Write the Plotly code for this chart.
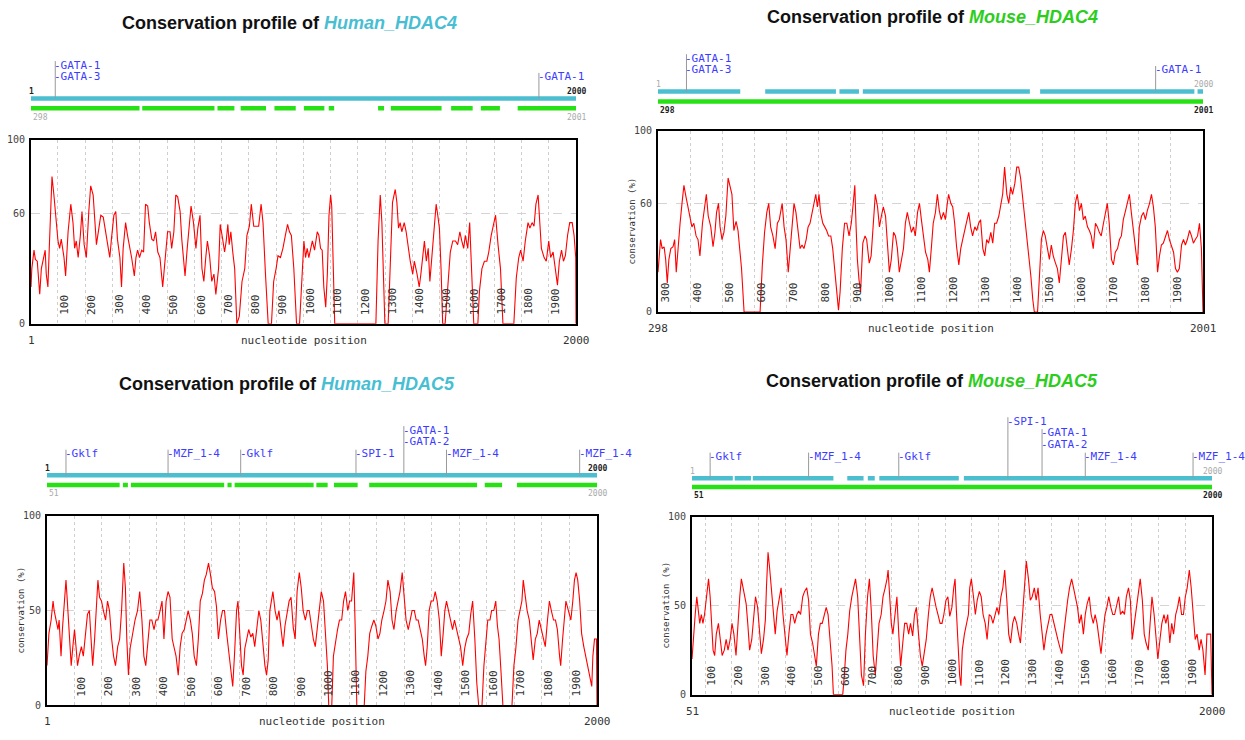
import plotly.graph_objects as go

W, H = 1245, 740

# ======================= DATA =======================
# conservation profiles: (nucleotide position, conservation %)
h4_profile = [
    (1, 20), (4, 30), (12, 40), (17, 35), (24, 34), (33, 16), (39, 30), (45, 34), (53, 40), (57, 27),
    (63, 20), (69, 45), (78, 80), (85, 70), (91, 59), (100, 45), (106, 41), (112, 46), (122, 36), (128, 26),
    (137, 50), (147, 65), (155, 55), (161, 41), (167, 45), (174, 36), (182, 48), (188, 61), (196, 43), (204, 36),
    (213, 61), (220, 75), (229, 70), (235, 55), (241, 43), (250, 52), (257, 59), (266, 58), (274, 51), (282, 43),
    (290, 36), (296, 46), (305, 59), (312, 61), (318, 46), (327, 36), (333, 20), (339, 41), (348, 55), (355, 48),
    (364, 41), (370, 36), (380, 26), (386, 36), (392, 40), (399, 36), (407, 40), (414, 39), (421, 65), (429, 64),
    (435, 55), (444, 46), (451, 45), (458, 50), (466, 39), (474, 36), (484, 20), (493, 36), (502, 50), (511, 50),
    (517, 41), (525, 50), (532, 70), (539, 69), (548, 61), (554, 46), (561, 36), (566, 26), (574, 41), (581, 55),
    (588, 64), (597, 55), (606, 41), (613, 52), (621, 59), (628, 30), (635, 23), (642, 36), (648, 45), (656, 37),
    (664, 23), (672, 27), (679, 16), (689, 30), (695, 54), (704, 46), (711, 39), (717, 45), (723, 54), (728, 43),
    (734, 50), (741, 39), (748, 30), (756, 0), (765, 4), (775, 23), (785, 30), (793, 48), (802, 53), (809, 65),
    (818, 53), (826, 53), (836, 53), (845, 65), (852, 55), (861, 27), (871, 0), (883, 0), (891, 23), (900, 30),
    (907, 37), (916, 36), (925, 41), (934, 48), (942, 54), (949, 50), (956, 48), (965, 30), (975, 0), (986, 0),
    (993, 20), (1002, 45), (1008, 36), (1014, 41), (1020, 36), (1026, 40), (1033, 45), (1041, 40), (1051, 50), (1057, 48),
    (1063, 41), (1069, 40), (1075, 20), (1082, 9), (1088, 27), (1094, 59), (1100, 70), (1104, 64), (1109, 30), (1115, 0),
    (1266, 0), (1274, 45), (1282, 70), (1288, 55), (1294, 25), (1299, 0), (1311, 0), (1318, 30), (1327, 66), (1337, 73),
    (1343, 66), (1349, 52), (1355, 55), (1361, 50), (1370, 55), (1377, 50), (1385, 41), (1392, 34), (1401, 27), (1407, 34),
    (1417, 27), (1425, 20), (1431, 27), (1437, 36), (1444, 45), (1451, 34), (1458, 41), (1464, 23), (1472, 39), (1478, 52),
    (1487, 65), (1493, 59), (1499, 52), (1505, 30), (1511, 0), (1520, 0), (1529, 21), (1539, 39), (1548, 45), (1558, 45),
    (1566, 43), (1574, 50), (1581, 45), (1588, 41), (1594, 48), (1603, 41), (1610, 55), (1618, 30), (1625, 0), (1640, 0),
    (1646, 18), (1655, 30), (1664, 34), (1673, 34), (1680, 39), (1689, 48), (1698, 55), (1705, 59), (1714, 43), (1723, 30),
    (1732, 0), (1772, 0), (1781, 25), (1790, 36), (1797, 40), (1806, 34), (1814, 45), (1824, 55), (1831, 52), (1839, 55),
    (1846, 53), (1853, 65), (1861, 70), (1868, 53), (1873, 41), (1883, 36), (1891, 34), (1900, 45), (1907, 36), (1916, 39),
    (1925, 30), (1932, 21), (1939, 34), (1947, 40), (1954, 34), (1961, 37), (1969, 48), (1977, 55), (1986, 55), (1993, 48),
    (1999, 36), (2000, 0)]

m4_profile = [
    (298, 22), (306, 40), (311, 35), (317, 36), (322, 29), (327, 16), (332, 29), (338, 35), (345, 36), (350, 40),
    (355, 22), (360, 35), (367, 49), (373, 60), (379, 70), (385, 64), (392, 58), (398, 51), (404, 47), (410, 49),
    (417, 42), (423, 40), (429, 31), (437, 49), (442, 55), (449, 65), (455, 53), (463, 47), (470, 36), (476, 44),
    (481, 55), (487, 60), (492, 47), (498, 40), (504, 44), (510, 53), (517, 74), (523, 69), (529, 65), (535, 45),
    (542, 50), (548, 45), (554, 35), (559, 24), (567, 0), (617, 0), (624, 26), (631, 44), (638, 55), (644, 60),
    (650, 47), (657, 42), (664, 35), (671, 49), (677, 51), (686, 60), (692, 47), (698, 40), (705, 22), (713, 38),
    (718, 51), (723, 60), (729, 55), (736, 42), (742, 35), (748, 37), (754, 35), (761, 40), (767, 47), (773, 49),
    (780, 56), (786, 60), (791, 65), (796, 58), (801, 65), (806, 55), (813, 49), (819, 47), (825, 45), (831, 42),
    (838, 42), (844, 35), (850, 22), (856, 13), (862, 1), (867, 11), (874, 35), (881, 49), (888, 49), (895, 42),
    (902, 49), (907, 58), (913, 70), (917, 47), (921, 29), (926, 18), (931, 11), (938, 38), (945, 42), (950, 40),
    (958, 27), (964, 31), (970, 47), (977, 65), (984, 58), (990, 47), (996, 53), (1002, 58), (1009, 53), (1015, 35),
    (1021, 22), (1027, 29), (1034, 44), (1040, 42), (1046, 35), (1052, 22), (1059, 29), (1065, 35), (1071, 49), (1077, 55),
    (1084, 49), (1090, 44), (1096, 47), (1102, 42), (1109, 55), (1115, 60), (1121, 51), (1127, 42), (1134, 33), (1141, 29),
    (1146, 22), (1152, 35), (1158, 49), (1165, 55), (1171, 65), (1177, 56), (1183, 51), (1190, 55), (1196, 51), (1202, 60),
    (1206, 65), (1213, 60), (1219, 58), (1225, 49), (1231, 36), (1238, 26), (1244, 35), (1250, 40), (1256, 45), (1263, 49),
    (1269, 55), (1275, 47), (1281, 42), (1288, 47), (1294, 45), (1300, 49), (1306, 51), (1313, 35), (1319, 31), (1325, 40),
    (1331, 38), (1338, 44), (1344, 38), (1350, 49), (1356, 49), (1363, 53), (1369, 60), (1375, 65), (1381, 80), (1388, 65),
    (1394, 60), (1400, 69), (1406, 65), (1413, 71), (1419, 80), (1425, 80), (1431, 74), (1438, 62), (1444, 51), (1450, 44),
    (1456, 33), (1463, 20), (1469, 7), (1474, 0), (1484, 0), (1490, 20), (1496, 40), (1502, 45), (1508, 42), (1515, 35),
    (1521, 29), (1527, 37), (1533, 31), (1540, 27), (1546, 24), (1552, 16), (1558, 29), (1565, 42), (1571, 44), (1577, 35),
    (1583, 26), (1590, 35), (1596, 45), (1602, 60), (1608, 65), (1615, 56), (1621, 60), (1627, 51), (1633, 53), (1640, 47),
    (1646, 45), (1652, 42), (1658, 35), (1665, 49), (1671, 47), (1677, 44), (1683, 42), (1690, 49), (1696, 55), (1702, 60),
    (1708, 49), (1715, 29), (1721, 26), (1727, 33), (1734, 35), (1740, 40), (1746, 42), (1752, 51), (1759, 56), (1765, 60),
    (1771, 65), (1777, 55), (1784, 44), (1790, 35), (1796, 26), (1802, 47), (1809, 53), (1815, 55), (1821, 51), (1827, 56),
    (1834, 60), (1840, 65), (1846, 58), (1852, 47), (1859, 22), (1865, 31), (1871, 37), (1877, 38), (1884, 42), (1890, 45),
    (1896, 40), (1902, 37), (1909, 33), (1915, 24), (1921, 22), (1927, 24), (1934, 37), (1940, 40), (1946, 37), (1952, 40),
    (1959, 45), (1965, 42), (1971, 38), (1977, 40), (1984, 42), (1990, 49), (1996, 35), (2001, 0)]

h5_profile = [
    (1, 21), (8, 38), (16, 45), (23, 55), (27, 50), (33, 45), (41, 40), (45, 45), (52, 26), (57, 40),
    (63, 55), (70, 66), (74, 57), (82, 40), (89, 21), (95, 31), (101, 40), (107, 30), (112, 21), (118, 26),
    (126, 31), (133, 26), (140, 35), (148, 48), (155, 50), (162, 35), (167, 21), (174, 35), (180, 55), (186, 66),
    (192, 57), (199, 55), (206, 50), (214, 45), (221, 55), (228, 50), (236, 35), (243, 26), (250, 21), (258, 31),
    (265, 35), (272, 50), (280, 75), (286, 62), (291, 35), (297, 16), (303, 30), (312, 38), (321, 45), (330, 50),
    (338, 60), (346, 45), (353, 26), (360, 21), (368, 35), (375, 45), (382, 45), (390, 40), (397, 45), (404, 45),
    (412, 50), (419, 55), (426, 35), (434, 55), (441, 60), (448, 57), (456, 35), (463, 31), (470, 26), (478, 16),
    (485, 31), (492, 38), (500, 40), (507, 45), (514, 50), (522, 45), (529, 38), (536, 26), (544, 21), (551, 35),
    (558, 55), (566, 59), (573, 66), (580, 69), (588, 75), (595, 69), (602, 62), (610, 60), (617, 52), (624, 35),
    (632, 45), (639, 50), (646, 50), (654, 38), (661, 28), (668, 21), (676, 10), (683, 28), (690, 50), (695, 55),
    (702, 38), (708, 21), (714, 16), (720, 30), (727, 35), (734, 40), (742, 36), (749, 38), (756, 31), (764, 42),
    (771, 50), (778, 45), (786, 31), (793, 21), (799, 16), (805, 24), (811, 50), (816, 55), (822, 60), (830, 50),
    (837, 45), (844, 50), (852, 38), (859, 31), (866, 42), (874, 50), (881, 55), (888, 57), (896, 41), (903, 35),
    (910, 60), (918, 70), (925, 62), (932, 50), (940, 45), (947, 50), (954, 50), (962, 42), (969, 35), (976, 31),
    (984, 42), (991, 50), (998, 60), (1006, 55), (1013, 40), (1020, 21), (1025, 0), (1036, 0), (1042, 26), (1050, 35),
    (1057, 40), (1064, 45), (1072, 45), (1079, 55), (1086, 60), (1094, 50), (1101, 55), (1108, 55), (1116, 70), (1121, 42),
    (1127, 0), (1154, 0), (1160, 18), (1167, 26), (1174, 38), (1182, 42), (1189, 45), (1196, 42), (1204, 35), (1211, 38),
    (1218, 45), (1226, 50), (1233, 55), (1240, 66), (1248, 60), (1255, 45), (1262, 40), (1270, 50), (1277, 55), (1284, 60),
    (1292, 70), (1299, 55), (1306, 45), (1314, 40), (1321, 45), (1328, 50), (1336, 50), (1343, 45), (1350, 45), (1358, 40),
    (1365, 35), (1372, 26), (1377, 21), (1383, 31), (1390, 50), (1397, 55), (1405, 55), (1412, 60), (1419, 55), (1427, 45),
    (1434, 26), (1441, 38), (1447, 50), (1453, 55), (1460, 50), (1468, 45), (1475, 40), (1482, 45), (1490, 40), (1497, 35),
    (1504, 31), (1512, 21), (1519, 30), (1526, 35), (1534, 38), (1541, 48), (1548, 55), (1556, 35), (1563, 12), (1570, 0),
    (1582, 0), (1589, 21), (1597, 38), (1603, 45), (1611, 45), (1617, 50), (1625, 50), (1632, 55), (1638, 42), (1644, 35),
    (1651, 18), (1658, 0), (1691, 0), (1698, 21), (1705, 30), (1713, 45), (1720, 50), (1727, 55), (1732, 66), (1739, 59),
    (1746, 50), (1754, 45), (1761, 35), (1768, 24), (1776, 35), (1783, 38), (1790, 45), (1798, 40), (1805, 35), (1812, 31),
    (1820, 45), (1827, 55), (1834, 50), (1842, 45), (1849, 45), (1856, 40), (1864, 26), (1868, 21), (1875, 35), (1881, 45),
    (1887, 55), (1896, 50), (1905, 45), (1912, 55), (1918, 66), (1924, 70), (1930, 66), (1937, 55), (1944, 38), (1952, 31),
    (1959, 26), (1966, 21), (1974, 16), (1981, 10), (1985, 26), (1991, 35), (1998, 35), (2000, 0)]

m5_profile = [
    (51, 20), (57, 34), (63, 45), (69, 55), (75, 47), (80, 40), (86, 45), (92, 40), (98, 45), (105, 55),
    (113, 65), (119, 55), (125, 40), (130, 25), (136, 22), (142, 34), (150, 40), (157, 31), (164, 22), (172, 25),
    (179, 31), (186, 25), (194, 31), (201, 40), (208, 34), (216, 22), (223, 40), (230, 55), (236, 65), (242, 60),
    (248, 55), (254, 51), (260, 40), (267, 25), (275, 31), (282, 45), (289, 55), (297, 49), (304, 34), (311, 23),
    (319, 31), (326, 42), (330, 60), (336, 80), (342, 71), (348, 60), (355, 45), (363, 34), (370, 47), (378, 55),
    (385, 60), (392, 45), (400, 31), (407, 22), (414, 34), (422, 45), (429, 45), (436, 40), (444, 45), (451, 47),
    (458, 45), (466, 55), (473, 58), (481, 60), (488, 53), (495, 34), (503, 29), (510, 23), (517, 16), (525, 34),
    (532, 40), (539, 40), (547, 45), (554, 49), (561, 45), (569, 31), (576, 16), (581, 0), (616, 0), (622, 11),
    (628, 25), (635, 34), (642, 47), (650, 55), (657, 60), (664, 65), (672, 55), (679, 34), (686, 11), (694, 5),
    (701, 34), (709, 55), (716, 65), (723, 47), (730, 22), (738, 11), (745, 25), (752, 40), (760, 45), (767, 55),
    (775, 60), (782, 65), (786, 70), (792, 55), (798, 40), (804, 34), (811, 45), (819, 55), (826, 34), (833, 16),
    (841, 29), (848, 40), (856, 40), (863, 34), (870, 40), (878, 33), (885, 45), (892, 49), (900, 34), (907, 22),
    (914, 16), (922, 25), (929, 31), (937, 45), (944, 55), (951, 60), (959, 53), (966, 49), (973, 45), (981, 40),
    (988, 40), (995, 45), (1003, 53), (1010, 55), (1017, 44), (1025, 49), (1032, 60), (1037, 65), (1042, 47), (1048, 25),
    (1054, 11), (1059, 5), (1064, 25), (1072, 34), (1079, 40), (1087, 45), (1092, 60), (1098, 65), (1106, 55), (1113, 45),
    (1120, 53), (1128, 58), (1135, 55), (1142, 45), (1150, 40), (1157, 31), (1165, 45), (1172, 44), (1179, 40), (1187, 45),
    (1194, 49), (1201, 45), (1209, 55), (1216, 60), (1223, 70), (1231, 53), (1238, 34), (1245, 29), (1253, 40), (1260, 44),
    (1268, 40), (1275, 34), (1282, 29), (1290, 45), (1297, 60), (1304, 75), (1312, 65), (1319, 53), (1326, 55), (1334, 60),
    (1341, 53), (1348, 60), (1356, 45), (1363, 34), (1370, 25), (1378, 34), (1385, 40), (1393, 45), (1400, 45), (1407, 40),
    (1415, 34), (1422, 31), (1429, 27), (1437, 23), (1444, 34), (1452, 45), (1459, 53), (1466, 60), (1474, 65), (1481, 60),
    (1488, 55), (1496, 49), (1503, 40), (1510, 45), (1518, 34), (1525, 45), (1532, 51), (1540, 55), (1547, 45), (1555, 40),
    (1562, 45), (1569, 40), (1577, 31), (1584, 23), (1591, 34), (1599, 45), (1606, 49), (1613, 55), (1621, 49), (1628, 45),
    (1635, 45), (1643, 51), (1650, 55), (1657, 45), (1665, 47), (1672, 45), (1679, 55), (1687, 60), (1694, 53), (1701, 31),
    (1709, 40), (1716, 45), (1724, 55), (1731, 65), (1739, 53), (1746, 34), (1753, 29), (1761, 25), (1768, 40), (1775, 55),
    (1783, 45), (1790, 31), (1797, 20), (1805, 31), (1812, 40), (1820, 45), (1827, 40), (1834, 45), (1842, 29), (1849, 40),
    (1856, 34), (1864, 45), (1871, 49), (1878, 55), (1886, 45), (1893, 45), (1900, 55), (1907, 60), (1915, 70), (1922, 60),
    (1930, 47), (1937, 31), (1944, 34), (1952, 25), (1959, 31), (1966, 25), (1974, 11), (1981, 34), (1988, 34), (1995, 34),
    (2000, 0)]

h4_pos = [p for p, v in h4_profile]
h4_val = [v for p, v in h4_profile]
m4_pos = [p for p, v in m4_profile]
m4_val = [v for p, v in m4_profile]
h5_pos = [p for p, v in h5_profile]
h5_val = [v for p, v in h5_profile]
m5_pos = [p for p, v in m5_profile]
m5_val = [v for p, v in m5_profile]

# --- alignment tracks (segment start / end, in each panel's coordinates) ---
h4_top_start, h4_top_end = [1], [2000]
h4_bot_start = [1, 409, 685, 770, 894, 1002, 1093, 1274, 1321, 1542, 1651, 1786]
h4_bot_end = [399, 674, 747, 863, 972, 1077, 1113, 1296, 1507, 1621, 1721, 2000]
m4_top_start = [298, 633, 865, 938, 1492, 1984]
m4_top_end = [555, 854, 926, 1460, 1974, 2001]
m4_bot_start, m4_bot_end = [298], [2001]
h5_top_start, h5_top_end = [1], [2000]
h5_bot_start = [1, 277, 306, 657, 683, 980, 1044, 1172, 1592, 1709]
h5_bot_end = [265, 295, 645, 672, 970, 1021, 1130, 1564, 1655, 2000]
m5_top_start = [51, 211, 279, 633, 710, 753, 1070]
m5_top_end = [204, 272, 581, 694, 736, 1051, 2000]
m5_bot_start, m5_bot_end = [51], [2000]

# --- transcription factor sites ---
h4_site_pos = [90, 1864]
h4_site_names = [["GATA-1", "GATA-3"], ["GATA-1"]]
m4_site_pos = [387, 1853]
m4_site_names = [["GATA-1", "GATA-3"], ["GATA-1"]]
h5_site_pos = [70, 441, 705, 1124, 1298, 1453, 1937]
h5_site_names = [["Gklf"], ["MZF_1-4"], ["Gklf"], ["SPI-1"], ["GATA-1", "GATA-2"], ["MZF_1-4"], ["MZF_1-4"]]
m5_site_pos = [119, 488, 826, 1235, 1363, 1525, 1929]
m5_site_names = [["Gklf"], ["MZF_1-4"], ["Gklf"], ["SPI-1"], ["GATA-1", "GATA-2"], ["MZF_1-4"], ["MZF_1-4"]]

# --- axis labels ---
h4_xticks = list(range(100, 2000, 100))
m4_xticks = list(range(300, 2000, 100))
h5_xticks = list(range(100, 2000, 100))
m5_xticks = list(range(100, 2000, 100))
h4_yticks = [0, 60, 100]
m4_yticks = [0, 60, 100]
h5_yticks = [0, 50, 100]
m5_yticks = [0, 50, 100]

# ======================= STYLE / LAYOUT =======================
HUMAN_C = "rgb(72,190,210)"
MOUSE_C = "rgb(45,205,30)"
TRACK_BLUE = "rgb(75,190,208)"
TRACK_GREEN = "rgb(40,225,20)"
SITE_C = "rgb(60,60,255)"
MONO = "DejaVu Sans Mono"
SANS = "Liberation Sans, Arial"

panels = [
    dict(name="Human_HDAC4", ncol=HUMAN_C, pos=h4_pos, val=h4_val, xr=[1, 2000],
         box=(31, 136, 576, 323), title=(289, 17), track_y=94, track_x=(31, 576), gap=10,
         top=(h4_top_start, h4_top_end), bot=(h4_bot_start, h4_bot_end),
         sites=(h4_site_pos, h4_site_names), levels=[0, 0],
         top_lbl=("1", "2000"), bot_lbl=("298", "2001"), top_bold=True,
         xticks=h4_xticks, yticks=h4_yticks, ylab=False, xlbl=("1", "2000")),
    dict(name="Mouse_HDAC4", ncol=MOUSE_C, pos=m4_pos, val=m4_val, xr=[298, 2001],
         box=(658, 127, 1203, 311), title=(932, 11), track_y=87, track_x=(658, 1203), gap=10,
         top=(m4_top_start, m4_top_end), bot=(m4_bot_start, m4_bot_end),
         sites=(m4_site_pos, m4_site_names), levels=[0, 0],
         top_lbl=("1", "2000"), bot_lbl=("298", "2001"), top_bold=False,
         xticks=m4_xticks, yticks=m4_yticks, ylab=True, xlbl=("298", "2001")),
    dict(name="Human_HDAC5", ncol=HUMAN_C, pos=h5_pos, val=h5_val, xr=[1, 2000],
         box=(47, 518, 597, 711), title=(287, 384), track_y=477, track_x=(47, 597), gap=10,
         top=(h5_top_start, h5_top_end), bot=(h5_bot_start, h5_bot_end),
         sites=(h5_site_pos, h5_site_names), levels=[0, 0, 0, 0, 1, 0, 0],
         top_lbl=("1", "2000"), bot_lbl=("51", "2000"), top_bold=True,
         xticks=h5_xticks, yticks=h5_yticks, ylab=True, xlbl=("1", "2000")),
    dict(name="Mouse_HDAC5", ncol=MOUSE_C, pos=m5_pos, val=m5_val, xr=[51, 2000],
         box=(692, 519, 1212, 700), title=(932, 381), track_y=480, track_x=(692, 1212), gap=9,
         top=(m5_top_start, m5_top_end), bot=(m5_bot_start, m5_bot_end),
         sites=(m5_site_pos, m5_site_names), levels=[0, 0, 0, 3, 1, 0, 0],
         top_lbl=("1", "2000"), bot_lbl=("51", "2000"), top_bold=False,
         xticks=m5_xticks, yticks=m5_yticks, ylab=True, xlbl=("51", "2000")),
]


def seg_xy(starts, ends, yv):
    xs, ys = [], []
    for s, e in zip(starts, ends):
        xs += [s, e, None]
        ys += [yv, yv, None]
    return xs, ys


fig = go.Figure()
layout = {}
annotations = []
ROW0, ROWH = 22, 12
TXT = "#333"

for i, p in enumerate(panels):
    n = i + 1
    tn = n + 4
    xk = "xaxis" if n == 1 else f"xaxis{n}"
    yk = "yaxis" if n == 1 else f"yaxis{n}"
    xa, ya = ("x" if n == 1 else f"x{n}"), ("y" if n == 1 else f"y{n}")
    txa, tya = f"x{tn}", f"y{tn}"
    L, T, R, B = p["box"]

    # conservation line
    fig.add_trace(go.Scatter(x=p["pos"], y=p["val"], mode="lines",
                             line=dict(color="rgb(255,0,0)", width=1.1),
                             xaxis=xa, yaxis=ya, showlegend=False, hoverinfo="skip"))
    layout[xk] = dict(domain=[L / W, R / W], range=p["xr"], anchor=ya,
                      showline=True, mirror=True, linecolor="black", linewidth=2,
                      showticklabels=False, ticks="", zeroline=False,
                      showgrid=True, gridcolor="#cfcfcf", griddash="dot", gridwidth=1,
                      tick0=0, dtick=100)
    layout[yk] = dict(domain=[1 - B / H, 1 - T / H], range=[0, 100], anchor=xa,
                      showline=True, mirror=True, linecolor="black", linewidth=2,
                      tickvals=p["yticks"], ticks="", zeroline=False,
                      showgrid=True, gridcolor="#d4d4d4", griddash="dash", gridwidth=1,
                      tickfont=dict(family=MONO, size=10, color="#444"), ticklabelstandoff=2)

    # rotated position labels inside plot
    for t in p["xticks"]:
        annotations.append(dict(x=t, y=0, xref=xa, yref=ya, text=str(t), textangle=-90,
                                showarrow=False, xanchor="center", yanchor="bottom",
                                xshift=7, yshift=7,
                                font=dict(family=MONO, size=11, color=TXT)))
    # under-axis labels
    yd = f"{ya} domain"
    for xv, lbl in zip(p["xr"], p["xlbl"]):
        annotations.append(dict(x=xv, y=0, xref=xa, yref=yd, text=lbl,
                                showarrow=False, xanchor="center", yanchor="top", yshift=-8,
                                font=dict(family=MONO, size=11, color=TXT)))
    annotations.append(dict(x=0.5, y=0, xref=f"{xa} domain", yref=yd, text="nucleotide position",
                            showarrow=False, xanchor="center", yanchor="top", yshift=-8,
                            font=dict(family=MONO, size=11, color=TXT)))
    if p["ylab"]:
        annotations.append(dict(x=0, y=0.5, xref=f"{xa} domain", yref=yd, text="conservation (%)",
                                textangle=-90, showarrow=False, xanchor="center", yanchor="middle",
                                xshift=-26, font=dict(family=MONO, size=9, color=TXT)))

    # title
    cx, cy = p["title"]
    annotations.append(dict(x=cx / W, y=1 - cy / H, xref="paper", yref="paper",
                            text=f"<b>Conservation profile of <i><span style='color:{p['ncol']}'>{p['name']}</span></i></b>",
                            showarrow=False, xanchor="center", yanchor="middle",
                            font=dict(family=SANS, size=18, color="#111")))

    # ---- alignment track ----
    by = p["track_y"]
    tL, tR = p["track_x"]
    layout[f"xaxis{tn}"] = dict(domain=[tL / W, tR / W], range=p["xr"], visible=False, anchor=tya)
    layout[f"yaxis{tn}"] = dict(domain=[1 - (by + 20) / H, 1 - (by - 70) / H], range=[-20, 70],
                                visible=False, anchor=txa)
    gx, gy = seg_xy(p["bot"][0], p["bot"][1], -p["gap"])
    fig.add_trace(go.Scatter(x=gx, y=gy, mode="lines", line=dict(color=TRACK_GREEN, width=4.5),
                             xaxis=txa, yaxis=tya, showlegend=False, hoverinfo="skip"))
    bx, byy = seg_xy(p["top"][0], p["top"][1], 0)
    fig.add_trace(go.Scatter(x=bx, y=byy, mode="lines", line=dict(color=TRACK_BLUE, width=4.5),
                             xaxis=txa, yaxis=tya, showlegend=False, hoverinfo="skip"))
    # site markers
    sx, sy = [], []
    for spos, names, lev in zip(p["sites"][0], p["sites"][1], p["levels"]):
        toprow = lev + len(names) - 1
        sx += [spos, spos, None]
        sy += [0, ROW0 + ROWH * toprow + 4, None]
        for k, nm in enumerate(names):
            row = lev + (len(names) - 1 - k)
            annotations.append(dict(x=spos, y=ROW0 + ROWH * row, xref=txa, yref=tya,
                                    text="-" + nm, showarrow=False, xanchor="left", yanchor="middle",
                                    xshift=-3, font=dict(family=MONO, size=11, color=SITE_C)))
    fig.add_trace(go.Scatter(x=sx, y=sy, mode="lines", line=dict(color="#999", width=1),
                             xaxis=txa, yaxis=tya, showlegend=False, hoverinfo="skip"))
    # end labels
    tb = p["top_bold"]
    topc = "#222" if tb else "#aaa"
    botc = "#aaa" if tb else "#222"
    tl0, tl1 = p["top_lbl"]
    bl0, bl1 = p["bot_lbl"]
    annotations.append(dict(x=p["xr"][0], y=7, xref=txa, yref=tya,
                            text=f"<b>{tl0}</b>" if tb else tl0, showarrow=False,
                            xanchor="center", yanchor="middle",
                            font=dict(family=MONO, size=8, color=topc)))
    annotations.append(dict(x=p["xr"][1], y=7, xref=txa, yref=tya,
                            text=f"<b>{tl1}</b>" if tb else tl1, showarrow=False,
                            xanchor="center", yanchor="middle",
                            font=dict(family=MONO, size=8, color=topc)))
    annotations.append(dict(x=p["xr"][0], y=-p["gap"] - 9, xref=txa, yref=tya,
                            text=bl0 if tb else f"<b>{bl0}</b>", showarrow=False,
                            xanchor="left", yanchor="middle",
                            font=dict(family=MONO, size=8, color=botc)))
    annotations.append(dict(x=p["xr"][1], y=-p["gap"] - 9, xref=txa, yref=tya,
                            text=bl1 if tb else f"<b>{bl1}</b>", showarrow=False,
                            xanchor="center", yanchor="middle",
                            font=dict(family=MONO, size=8, color=botc)))

fig.update_layout(**layout)
fig.update_layout(width=W, height=H, margin=dict(l=0, r=0, t=0, b=0),
                  paper_bgcolor="white", plot_bgcolor="white",
                  showlegend=False, annotations=annotations)
fig.write_html("out.html", config={"displayModeBar": False},
               post_script="document.body.style.margin='0';document.body.style.overflow='hidden';")
